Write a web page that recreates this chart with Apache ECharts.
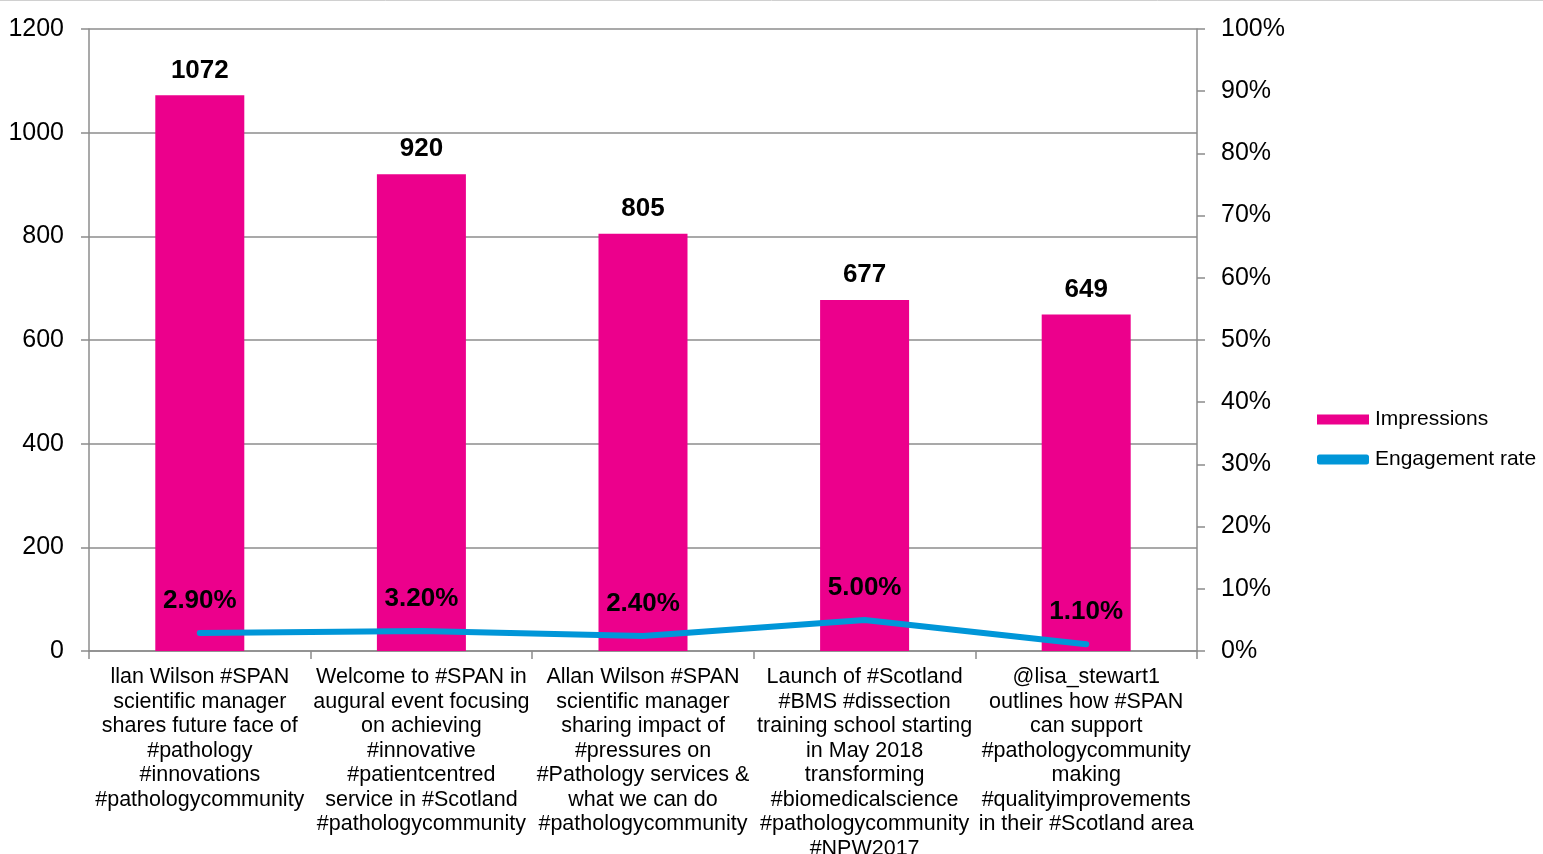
<!DOCTYPE html>
<html>
<head>
<meta charset="utf-8">
<script src="https://cdn.jsdelivr.net/npm/echarts@6/dist/echarts.min.js"></script>
<style>html,body{margin:0;padding:0;background:#fff;overflow:hidden;}#c{width:1543px;height:854px;}</style>
</head>
<body>
<div id="c"></div>
<script>
const categories = [
  "llan Wilson #SPAN\nscientific manager\nshares future face of\n#pathology\n#innovations\n#pathologycommunity",
  "Welcome to #SPAN in\naugural event focusing\non achieving\n#innovative\n#patientcentred\nservice in #Scotland\n#pathologycommunity",
  "Allan Wilson #SPAN\nscientific manager\nsharing impact of\n#pressures on\n#Pathology services &\nwhat we can do\n#pathologycommunity",
  "Launch of #Scotland\n#BMS #dissection\ntraining school starting\nin May 2018\ntransforming\n#biomedicalscience\n#pathologycommunity\n#NPW2017",
  "@lisa_stewart1\noutlines how #SPAN\ncan support\n#pathologycommunity\nmaking\n#qualityimprovements\nin their #Scotland area"
];
const impressions = [1072, 920, 805, 677, 649];
const engagementRate = [2.9, 3.2, 2.4, 5.0, 1.1];
const leftTicks = [0, 200, 400, 600, 800, 1000, 1200];
const rightTicks = [0, 10, 20, 30, 40, 50, 60, 70, 80, 90, 100];

const FONT = '"Liberation Sans", Arial, sans-serif';
const chart = echarts.init(document.getElementById('c'), null, {renderer: 'canvas', width: 1543, height: 854});
chart.setOption({
  animation: false,
  textStyle: {fontFamily: FONT, color: '#000'},
  grid: {left: 89, top: 29, width: 1108, height: 622, containLabel: false, outerBoundsMode: 'none'},
  graphic: [{
    type: 'line', shape: {x1: 0, y1: 0.5, x2: 1543, y2: 0.5},
    style: {stroke: '#d0d0d0', lineWidth: 1}
  }],
  legend: {
    orient: 'vertical', left: 1312, top: 404,
    itemWidth: 52, itemHeight: 10, itemGap: 19,
    textStyle: {fontFamily: FONT, fontSize: 21, color: '#000', padding: [0,0,0,1]},
    data: [
      {name: 'Impressions', icon: 'rect'},
      {name: 'Engagement rate', icon: 'roundRect'}
    ]
  },
  xAxis: {
    type: 'category', data: categories,
    axisLine: {show: true, lineStyle: {color: '#8c8c8c', width: 1.5}},
    axisTick: {show: true, length: 8, lineStyle: {color: '#8c8c8c', width: 1.5}},
    axisLabel: {interval: 0, fontFamily: FONT, fontSize: 21.5, lineHeight: 24.5, color: '#000', margin: 14, align: 'center'}
  },
  yAxis: [{
    type: 'value', min: leftTicks[0], max: leftTicks[leftTicks.length-1], interval: 200,
    axisLine: {show: true, lineStyle: {color: '#8c8c8c', width: 1.5}},
    axisTick: {show: true, length: 8, lineStyle: {color: '#8c8c8c', width: 1.5}},
    splitLine: {show: true, lineStyle: {color: '#8c8c8c', width: 1.5}},
    axisLabel: {fontFamily: FONT, fontSize: 25, color: '#000', margin: 25, formatter: v => String(v)}
  }, {
    type: 'value', min: rightTicks[0], max: rightTicks[rightTicks.length-1], interval: 10,
    position: 'right',
    axisLine: {show: true, lineStyle: {color: '#8c8c8c', width: 1.5}},
    axisTick: {show: true, length: 8, lineStyle: {color: '#8c8c8c', width: 1.5}},
    splitLine: {show: false},
    axisLabel: {fontFamily: FONT, fontSize: 25, color: '#000', margin: 24, formatter: v => v + '%'}
  }],
  series: [{
    name: 'Impressions', type: 'bar', data: impressions, barWidth: 89,
    itemStyle: {color: '#EC008C'},
    label: {show: true, position: 'top', distance: 12, fontFamily: FONT, fontSize: 26, fontWeight: 'bold', color: '#000'}
  }, {
    name: 'Engagement rate', type: 'line', yAxisIndex: 1, data: engagementRate,
    symbol: 'circle', symbolSize: 2, showSymbol: true,
    lineStyle: {color: '#0096D8', width: 6, cap: 'round', join: 'round'},
    itemStyle: {color: '#0096D8'},
    label: {show: true, position: 'top', distance: 18, fontFamily: FONT, fontSize: 26, fontWeight: 'bold', color: '#000',
      formatter: p => p.value.toFixed(2) + '%'},
    z: 5
  }]
});
</script>
</body>
</html>
